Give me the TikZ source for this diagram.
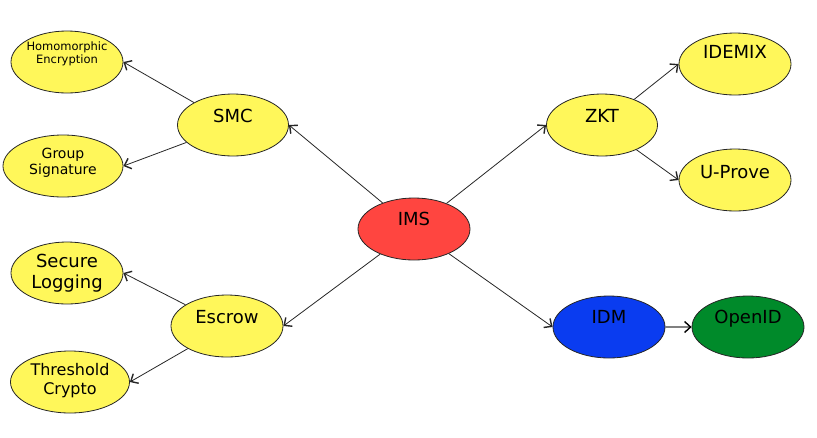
\documentclass[tikz,border=0pt]{standalone}
\usepackage{fontspec}
\setmainfont{DejaVu Sans}
\usetikzlibrary{shapes.geometric,arrows.meta}
\definecolor{yel}{HTML}{FFF75A}
\definecolor{imsred}{HTML}{FF4540}
\definecolor{idmblue}{HTML}{0A3CF0}
\definecolor{oidgreen}{HTML}{008A2A}
\tikzset{
  oval/.style={ellipse, draw=black!85, line width=0.8pt, minimum width=112pt, minimum height=62pt, inner sep=0pt},
  yoval/.style={oval, fill=yel},
  lbl/.style={inner sep=0pt, align=center, font=\fontsize{18}{21}\selectfont},
  lblone/.style={lbl, text height=13pt, text depth=0pt},
  conn/.style={draw=black!85, line width=0.8pt, -{Straight Barb[length=6pt,width=11pt,line width=1.4pt]}},
}
\begin{document}
\begin{tikzpicture}[x=1pt,y=-1pt]
\useasboundingbox (0,0) rectangle (817,437);
% ovals
\node[oval, fill=imsred] (ims) at (414,229) {};
\node[oval, fill=idmblue] (idm) at (609,327) {};
\node[oval, fill=oidgreen] (oid) at (748,327) {};
\node[yoval, minimum width=111pt] (zkt) at (602,125) {};
\node[yoval] (idemix) at (735,64) {};
\node[yoval] (uprove) at (735,180) {};
\node[yoval, minimum width=111pt] (smc) at (233,125) {};
\node[yoval] (homo) at (67,62) {};
\node[yoval, minimum width=120pt] (grp) at (63,166) {};
\node[yoval] (escrow) at (227,326) {};
\node[yoval] (seclog) at (67,273) {};
\node[yoval, minimum width=119pt] (thr) at (70,382) {};
% labels
\node[lblone] (imst) at (414,219) {IMS};
\node[lblone] (idmt) at (609,317) {IDM};
\node[lblone] (oidt) at (748,317) {OpenID};
\node[lblone] (zktt) at (602,116) {ZKT};
\node[lblone] (idemixt) at (735,52) {IDEMIX};
\node[lblone] (uprovet) at (735,172) {U-Prove};
\node[lblone] (smct) at (233,116) {SMC};
\node[lblone] (escrowt) at (227,317) {Escrow};
\node[lbl, font=\fontsize{11.5}{12.5}\selectfont] (homot) at (67,54) {Homomorphic\\Encryption};
\node[lbl, font=\fontsize{14}{16}\selectfont] (grpt) at (63,163) {Group\\Signature};
\node[lbl] (seclogt) at (67,273) {Secure\\Logging};
\node[lbl, font=\fontsize{16}{19}\selectfont] (thrt) at (70,381) {Threshold\\Crypto};
% connectors
\draw[conn] (ims) -- (smc.east);
\draw[conn] (ims) -- (zkt.west);
\draw[conn] (ims) -- (escrow.east);
\draw[conn] (ims) -- (idm.west);
\draw[conn] (smc) -- (homo.east);
\draw[conn] (smc) -- (grp.east);
\draw[conn] (escrow) -- (seclog.east);
\draw[conn] (escrow) -- (thr.east);
\draw[conn] (zkt) -- (idemix.west);
\draw[conn] (zkt) -- (uprove.west);
\draw[draw=black!50, line width=1.2pt, -{Straight Barb[length=6pt,width=11pt,line width=1.4pt,color=black]}] (idm.east) -- (oid.west);
\end{tikzpicture}
\end{document}
